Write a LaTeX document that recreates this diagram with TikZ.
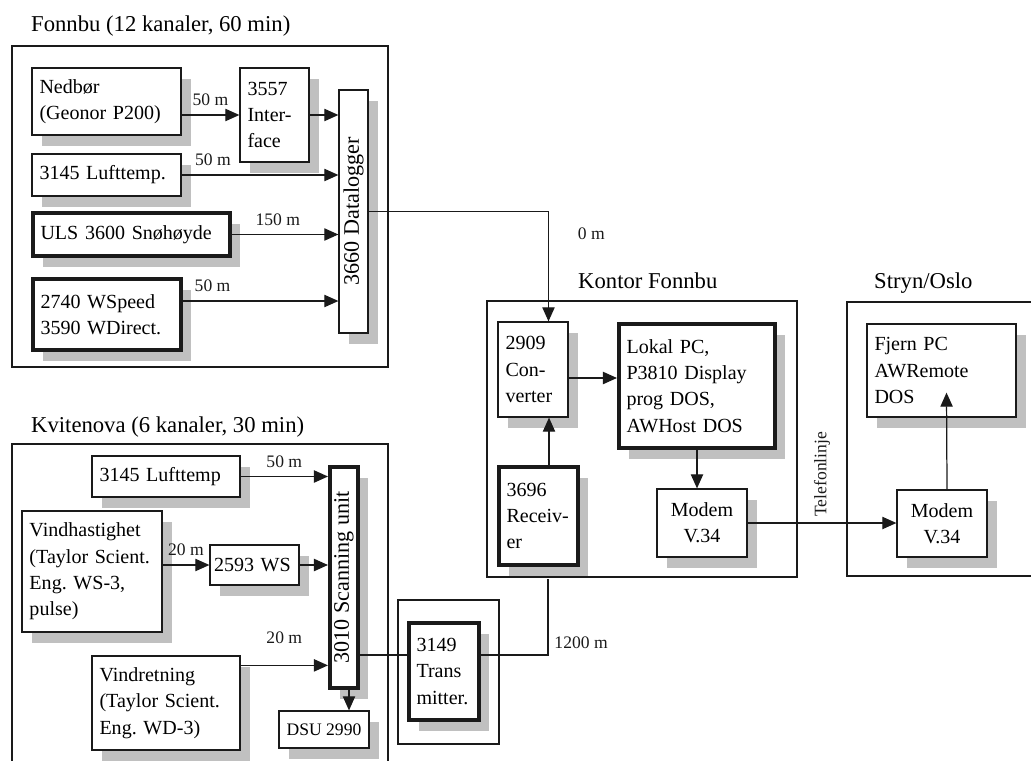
\documentclass[tikz,border=0pt]{standalone}
\usepackage{fontspec}
\setmainfont{Liberation Serif}
\usetikzlibrary{arrows.meta,shadows}
\definecolor{Skygge}{HTML}{C0C0C0}
\definecolor{Strek}{HTML}{1A1A1A}
\frenchspacing

\begin{document}
\begin{tikzpicture}[
  font=\fontsize{11.4}{15}\selectfont,
  boks/.style={draw=Strek,line width=0.7pt,fill=white,align=left,inner xsep=0.15cm,inner ysep=2pt,
    drop shadow={shadow xshift=0.2cm,shadow yshift=-0.22cm,fill=Skygge,opacity=1}},
  tykk/.style={boks,line width=2.3pt},
  staaende/.style={inner sep=0pt,font=\fontsize{12.6}{15}\selectfont},
  gruppe/.style={draw=Strek,line width=0.7pt},
  tittel/.style={anchor=base west,font=\fontsize{12.9}{15}\selectfont},
  merke/.style={font=\fontsize{10}{12}\selectfont},
  pil/.style={-{Triangle[length=8pt,width=7pt]},line width=0.7pt,Strek},
  linje/.style={line width=0.7pt,Strek}
]
  \useasboundingbox (0,0) rectangle (20.62,15.20);

  % Fonnbu
  \draw[gruppe] (0.24,7.86) rectangle (7.76,14.28);
  \node[tittel] (fonnbutittel) at (0.50,14.56) {Fonnbu (12 kanaler, 60 min)};
  \node[boks,text width=2.68cm,minimum height=1.34cm] (nedbor) at (2.13,13.17)
    {Nedbør\\(Geonor P200)};
  \node[boks,text width=1.08cm,minimum height=1.88cm] (interface) at (5.49,12.90)
    {3557\\Inter-\\face};
  \node[boks,staaende,minimum width=0.58cm,minimum height=4.86cm] (datalogger) at (7.07,10.97)
    {\rotatebox{90}{3660 Datalogger}};
  \node[boks,text width=2.68cm,minimum height=0.84cm] (lufttempF) at (2.13,11.70)
    {3145 Lufttemp.};
  \node[tykk,text width=3.64cm,minimum height=0.86cm] (snohoyde) at (2.63,10.51)
    {ULS 3600 Snøhøyde};
  \node[tykk,text width=2.66cm,minimum height=1.42cm] (vind) at (2.14,8.91)
    {2740 WSpeed\\3590 WDirect.};

  \draw[pil] (interface.west -| nedbor.east)--node[merke,above=1.5pt]{50 m}(interface.west);
  \draw[pil] (interface.east)--(interface.east -| datalogger.west);
  \draw[pil] (lufttempF.east)--node[merke,above=1.5pt,pos=0.2]{50 m}(lufttempF.east -| datalogger.west);
  \draw[pil] (snohoyde.east)--node[merke,above=1.5pt,pos=0.43]{150 m}(snohoyde.east -| datalogger.west);
  \draw[pil] ([yshift=0.27cm]vind.east)--node[merke,above=1.5pt,pos=0.19]{50 m}([yshift=0.27cm]vind.east -| datalogger.west);

  % Kvitenova
  \draw[gruppe] (0.24,-0.20) rectangle (7.76,6.32);
  \node[tittel] (kvitenovatittel) at (0.50,6.56) {Kvitenova (6 kanaler, 30 min)};
  \node[boks,text width=2.66cm,minimum height=0.82cm] (lufttempK) at (3.32,5.67)
    {3145 Lufttemp};
  \node[boks,text width=2.50cm,minimum height=2.42cm] (vindhast) at (1.84,3.77)
    {Vindhastighet\\(Taylor Scient.\\Eng. WS-3,\\pulse)};
  \node[boks,inner xsep=0.08cm,text width=1.62cm,minimum height=0.80cm] (ws) at (5.09,3.90)
    {2593 WS};
  \node[boks,text width=2.66cm,minimum height=1.88cm] (vindretn) at (3.32,1.14)
    {Vindretning\\(Taylor Scient.\\Eng. WD-3)};
  \node[tykk,staaende,minimum width=0.56cm,minimum height=4.42cm] (scanning) at (6.88,3.65)
    {\rotatebox{90}{3010 Scanning unit}};
  \node[boks,merke,align=center,minimum width=1.80cm,minimum height=0.74cm] (dsu) at (6.48,0.61)
    {DSU 2990};

  \draw[pil] (lufttempK.east)--node[merke,above=1.5pt]{50 m}(lufttempK.east -| scanning.west);
  \draw[pil] (ws.west -| vindhast.east)--node[merke,above=1.5pt]{20 m}(ws.west);
  \draw[pil] (ws.east)--(ws.east -| scanning.west);
  \draw[pil] ([yshift=-0.2cm]vindretn.north east)--node[merke,above=1.5pt,yshift=0.25cm]{20 m}([yshift=-0.2cm]vindretn.north east -| scanning.west);
  \draw[pil] ([xshift=0.1cm]scanning.south)--([xshift=0.1cm]scanning.south |- dsu.north);

  % sender
  \draw[gruppe] (7.96,0.32) rectangle (9.98,3.20);
  \node[tykk,text width=1.10cm,minimum height=1.94cm] (transmitter) at (8.88,1.77)
    {3149\\Trans\\mitter.};
  \draw[linje] ([yshift=0.33cm]transmitter.west -| scanning.east)--([yshift=0.33cm]transmitter.west);

  % Kontor Fonnbu
  \draw[gruppe] (9.74,3.66) rectangle (15.94,9.18);
  \node[tittel] (kontortittel) at (11.44,9.44) {Kontor Fonnbu};
  \node[boks,text width=1.10cm,minimum height=1.90cm] (converter) at (10.66,7.81)
    {2909\\Con-\\verter};
  \node[tykk,text width=2.82cm,minimum height=2.48cm] (lokalpc) at (13.94,7.48)
    {Lokal PC,\\P3810 Display\\prog DOS,\\AWHost DOS};
  \node[tykk,text width=1.28cm,minimum height=1.96cm] (receiver) at (10.77,4.88)
    {3696\\Receiv-\\er};
  \node[boks,align=center,minimum width=1.80cm,minimum height=1.36cm] (modemkontor) at (14.04,4.74)
    {Modem\\V.34};

  \draw[pil] (datalogger.east) -| node[merke,pos=0.6,anchor=west,xshift=0.46cm]{0 m} ([xshift=0.31cm]converter.north);
  \draw[linje] ([yshift=0.33cm]transmitter.east) -| node[merke,pos=0.5,anchor=south west]{1200 m} ([xshift=0.19cm,yshift=-0.24cm]receiver.south);
  \draw[pil] ([xshift=0.21cm]receiver.north)--([xshift=0.21cm]receiver.north |- converter.south);
  \draw[pil] ([yshift=-0.17cm]converter.east)--([yshift=-0.17cm]converter.east -| lokalpc.west);
  \draw[pil] (lokalpc.south)--(lokalpc.south |- modemkontor.north);

  % Stryn/Oslo
  \draw[gruppe] (16.94,3.68) rectangle (20.80,9.16);
  \node[tittel] (strynttittel) at (17.36,9.44) {Stryn/Oslo};
  \node[boks,text width=2.68cm,minimum height=1.86cm] (fjernpc) at (18.83,7.79)
    {Fjern PC\\AWRemote\\DOS};
  \node[boks,align=center,minimum width=1.80cm,minimum height=1.34cm] (modemstryn) at (18.84,4.73)
    {Modem\\V.34};

  \draw[pil] (modemkontor.east)--node[merke,pos=0.5,rotate=90,anchor=west]{Telefonlinje}(modemkontor.east -| modemstryn.west);
  \draw[pil] ([xshift=0.1cm]modemstryn.north)--([xshift=0.1cm,yshift=0.5cm]fjernpc.south);
\end{tikzpicture}
\end{document}
